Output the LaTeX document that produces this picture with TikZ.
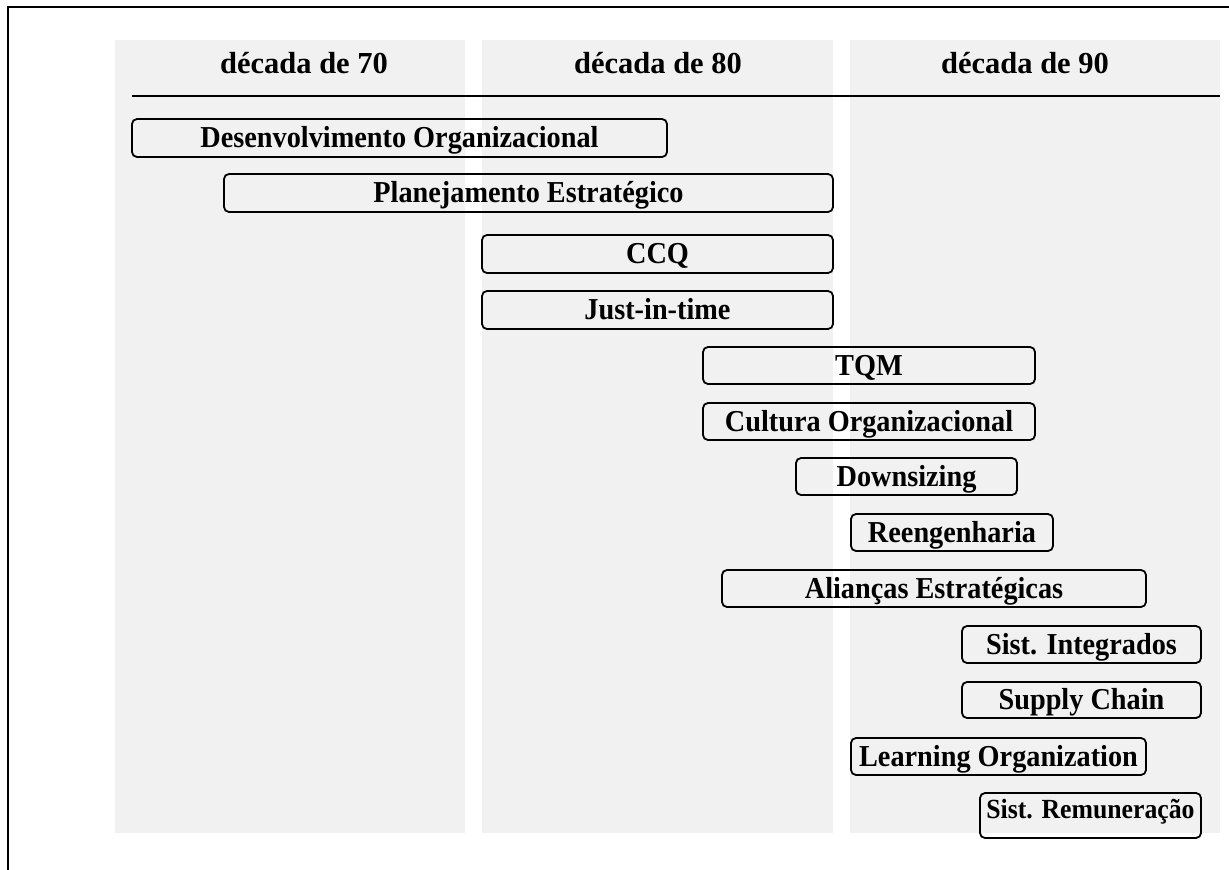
\documentclass[tikz,border=0pt]{standalone}
\usepackage{fontspec}
\setmainfont{Liberation Serif}
\newfontfamily\boxfont{Liberation Serif}[FakeStretch=0.93]
\definecolor{colgray}{RGB}{241,241,241}
\tikzset{
  decade/.style={fill=colgray, draw=none},
  era/.style={draw=black, line width=1.8pt, rounded corners=5pt, inner sep=0pt,
    font=\boxfont\fontsize{30.4}{36}\bfseries\selectfont, text height=19.9pt, text depth=0pt},
  erasmall/.style={era, font=\boxfont\fontsize{27.7}{33}\bfseries\selectfont, text height=18.1pt, text depth=12pt},
  head/.style={inner sep=0pt, font=\fontsize{30.5}{36}\bfseries\selectfont, text height=20pt, text depth=0pt},
}
\begin{document}
\begin{tikzpicture}[x=1pt,y=-1pt]
\useasboundingbox (0,0) rectangle (1229,870);
% frame
\draw[line width=2pt] (8,870) -- (8,7) -- (1229,7);
% decade columns
\fill[decade] (115,40) rectangle (465,833);
\fill[decade] (482,40) rectangle (833,833);
\fill[decade] (850,40) rectangle (1220,833);
% headers
\node[head] (h70) at (304,63) {década de 70};
\node[head] (h80) at (658,63) {década de 80};
\node[head] (h90) at (1025,63) {década de 90};
\draw[line width=1.6pt] (132,96) -- (1220,96);
% boxes
\node[era, minimum width=535pt, minimum height=38pt] (b1) at (399.5,138) {Desenvolvimento Organizacional};
\node[era, minimum width=609pt, minimum height=38pt] (b2) at (528.5,193) {Planejamento Estratégico};
\node[era, minimum width=351pt, minimum height=38pt] (b3) at (657.5,254) {CCQ};
\node[era, minimum width=351pt, minimum height=38pt] (b4) at (657.5,310) {Just-in-time};
\node[era, minimum width=332pt, minimum height=37pt] (b5) at (869,365.5) {TQM};
\node[era, minimum width=332pt, minimum height=37pt] (b6) at (869,421.5) {Cultura Organizacional};
\node[era, minimum width=221pt, minimum height=37pt] (b7) at (906.5,476.5) {Downsizing};
\node[era, minimum width=202pt, minimum height=37pt] (b8) at (952,532.5) {Reengenharia};
\node[era, minimum width=424pt, minimum height=37pt] (b9) at (934,588.5) {Alianças Estratégicas};
\node[era, minimum width=239pt, minimum height=37pt] (b10) at (1081.5,644.5) {Sist. Integrados};
\node[era, minimum width=239pt, minimum height=36pt] (b11) at (1081.5,700) {Supply Chain};
\node[era, minimum width=295pt, minimum height=37pt] (b12) at (998.5,756.5) {Learning Organization};
\node[erasmall, minimum width=221pt, minimum height=45pt] (b13) at (1090.5,815.5) {Sist. Remuneração};
\end{tikzpicture}
\end{document}
